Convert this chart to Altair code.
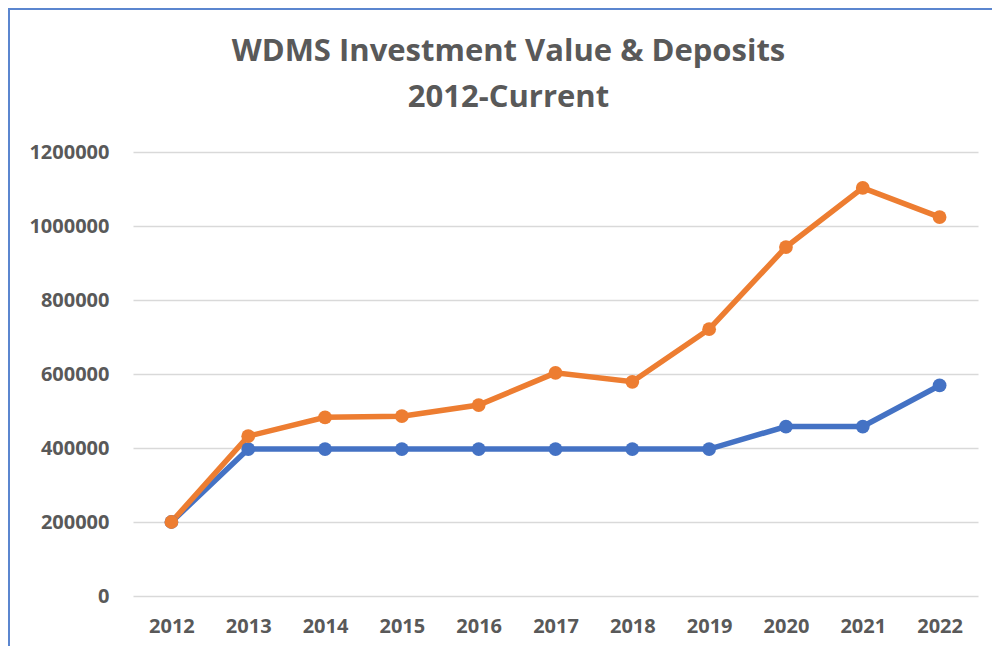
import altair as alt
import pandas as pd

years = ["2012", "2013", "2014", "2015", "2016", "2017", "2018", "2019", "2020", "2021", "2022"]
deposits = [200000, 397000, 397000, 397000, 397000, 397000, 397000, 397000, 458000, 458000, 569000]
investment = [200000, 432000, 483000, 486000, 516000, 603000, 579000, 721000, 943000, 1103000, 1024000]
series_names = ["Deposits", "Investment Value"]
series_colors = ["#4472C4", "#ED7D31"]

rows = []
for i, y in enumerate(years):
    rows.append({"year": y, "series": series_names[0], "value": deposits[i]})
    rows.append({"year": y, "series": series_names[1], "value": investment[i]})
df = pd.DataFrame(rows)

FONT = "Open Sans"
GRAY = "#595959"

x_enc = alt.X("year:O", sort=years, scale=alt.Scale(type="point", padding=0.5),
              axis=alt.Axis(title=None, labelAngle=0, domain=False, ticks=False, grid=False,
                            labelFont=FONT, labelFontSize=20, labelFontWeight="bold",
                            labelColor=GRAY, labelPadding=20))
y_enc = alt.Y("value:Q", scale=alt.Scale(domain=[0, 1200000]),
              axis=alt.Axis(title=None, values=[0, 200000, 400000, 600000, 800000, 1000000, 1200000],
                            format="d", domain=False, ticks=False, grid=True,
                            gridColor="#D9D9D9", gridWidth=1.5,
                            labelFont=FONT, labelFontSize=20, labelFontWeight="bold",
                            labelColor=GRAY, labelPadding=24))
color_enc = alt.Color("series:N", scale=alt.Scale(domain=series_names, range=series_colors), legend=None)

base = alt.Chart(df).encode(x=x_enc, y=y_enc, color=color_enc, order=alt.Order("series:N"))
lines = base.mark_line(strokeWidth=5.5)
points = base.mark_point(filled=True, size=190, opacity=1)

one = pd.DataFrame({"a": [0]})
border_left = alt.Chart(one).mark_rule(color="#5B86CF", strokeWidth=2).encode(
    x=alt.value(-124), y=alt.value(-144), y2=alt.value(600))
border_top = alt.Chart(one).mark_rule(color="#5B86CF", strokeWidth=2).encode(
    x=alt.value(-124), x2=alt.value(900), y=alt.value(-143))

chart = alt.layer(border_left, border_top, lines, points).properties(
    width=845, height=444,
    background="white",
    autosize=alt.AutoSizeParams(type="none"),
    padding={"left": 125, "top": 144, "right": 14, "bottom": 50},
    title=alt.TitleParams(text=["WDMS Investment Value & Deposits", "2012-Current"],
                          font=FONT, fontSize=31, fontWeight="bold", color=GRAY,
                          anchor="middle", frame="group", baseline="alphabetic",
                          dx=-47, dy=131, offset=0, lineHeight=46),
).configure_view(strokeWidth=0)

chart.save("out.html", embed_options={"renderer": "svg", "actions": False})
